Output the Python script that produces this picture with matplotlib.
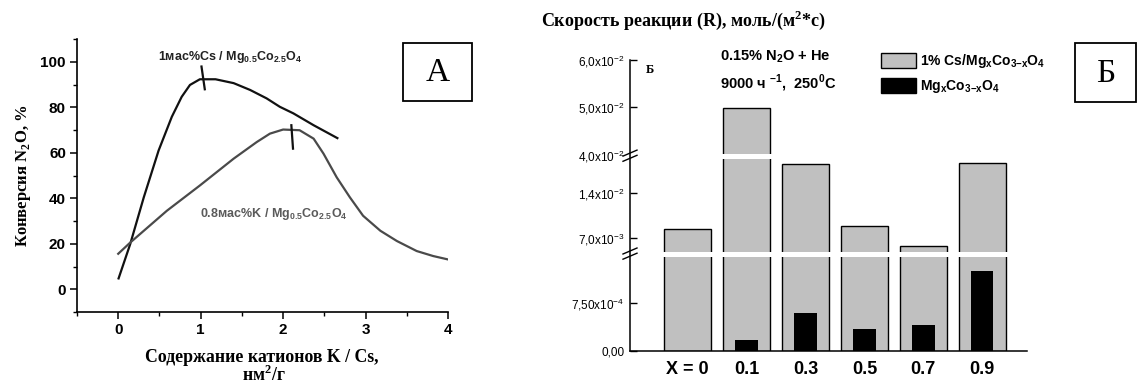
import numpy as np
import matplotlib
matplotlib.use("Agg")
import matplotlib.pyplot as plt
from matplotlib.patches import Rectangle
from matplotlib.lines import Line2D

# ---------------- data ----------------
# Panel A: N2O conversion vs. cation loading
cs_x = [0, 0.145, 0.31, 0.49, 0.65, 0.77, 0.87, 0.99, 1.18, 1.40, 1.60, 1.80, 1.96, 2.125, 2.37, 2.67]
cs_y = [4.3, 19.8, 40.4, 61.0, 75.8, 84.6, 89.8, 92.3, 92.3, 90.6, 87.6, 83.9, 80.2, 77.3, 72.1, 66.2]
k_x = [0, 0.145, 0.59, 0.99, 1.40, 1.68, 1.84, 2.0, 2.2, 2.37, 2.49, 2.65, 2.81, 2.97, 3.18, 3.38, 3.62, 3.82, 4.0]
k_y = [15.6, 20.5, 34.5, 45.6, 57.4, 64.7, 68.4, 70.2, 69.9, 66.2, 59.6, 49.2, 40.4, 32.3, 25.7, 21.2, 16.8, 14.6, 13.1]
cs_peak_x = [1.01, 1.05]
cs_peak_y = [97.9, 87.9]
k_peak_x = [2.10, 2.12]
k_peak_y = [72.1, 61.8]

# Panel B: reaction rate vs. Mg content x
x_labels = ["X = 0", "0.1", "0.3", "0.5", "0.7", "0.9"]
cs_rate = [8.4e-3, 4.98e-2, 1.856e-2, 8.96e-3, 5.85e-3, 1.867e-2]
bare_rate = [0.0, 1.78e-4, 5.93e-4, 3.41e-4, 4.14e-4, 1.253e-3]
ytick_vals = [0.0, 7.5e-4, 7.0e-3, 1.4e-2, 4.0e-2, 5.0e-2, 6.0e-2]
ytick_text = ["0,00", "7,50x10$^\\mathregular{-4}$", "7,0x10$^\\mathregular{-3}$",
              "1,4x10$^\\mathregular{-2}$", "4,0x10$^\\mathregular{-2}$",
              "5,0x10$^\\mathregular{-2}$", "6,0x10$^\\mathregular{-2}$"]

# ---------------- figure ----------------
W, H = 1137, 385
fig = plt.figure(figsize=(W / 100, H / 100), dpi=100)

SANS = "Liberation Sans"
SERIF = "Liberation Serif"


def fx(px):
    return px / W


def fy(py):
    return 1 - py / H


# ---------------- panel A ----------------
axA = fig.add_axes([fx(77), fy(312), (448 - 77) / W, (312 - 39) / H])
axA.plot(cs_x, cs_y, color="#111111", lw=1.6, solid_capstyle="butt")
axA.plot(k_x, k_y, color="#4a4a4a", lw=1.6)
axA.plot(cs_peak_x, cs_peak_y, color="#111111", lw=1.6)
axA.plot(k_peak_x, k_peak_y, color="#111111", lw=1.6)

axA.set_xlim(-0.5, 4)
axA.set_ylim(-10, 110)
axA.set_xticks([0, 1, 2, 3, 4])
axA.set_xticks([-0.5, 0.5, 1.5, 2.5, 3.5], minor=True)
axA.set_yticks([0, 20, 40, 60, 80, 100])
axA.set_yticks([-10, 10, 30, 50, 70, 90, 110], minor=True)
for s in ("top", "right"):
    axA.spines[s].set_visible(False)
for s in ("left", "bottom"):
    axA.spines[s].set_linewidth(1.2)
axA.tick_params(which="major", direction="out", length=5, width=1.1, pad=3)
axA.tick_params(which="minor", direction="out", length=3, width=1.0)
for lab in axA.get_xticklabels() + axA.get_yticklabels():
    lab.set_fontfamily(SANS)
    lab.set_fontweight("bold")
    lab.set_fontsize(11)

axA.set_ylabel("Конверсия N$_\\mathregular{2}$O, %", fontfamily=SERIF,
               fontweight="bold", fontsize=12, labelpad=5)
fig.text(fx(262), fy(357), "Содержание катионов K / Cs,", fontfamily=SERIF,
         fontweight="bold", fontsize=12.8, ha="center", va="center")
fig.text(fx(264), fy(375), "нм$^\\mathregular{2}$/г", fontfamily=SERIF,
         fontweight="bold", fontsize=12.8, ha="center", va="center")

axA.text(0.485, 102, "1мас%Cs / Mg$_\\mathregular{0.5}$Co$_\\mathregular{2.5}$O$_\\mathregular{4}$",
         fontfamily=SANS, fontweight="bold", fontsize=9, color="#222222",
         ha="left", va="center")
axA.text(0.99, 33, "0.8мас%K / Mg$_\\mathregular{0.5}$Co$_\\mathregular{2.5}$O$_\\mathregular{4}$",
         fontfamily=SANS, fontweight="bold", fontsize=9, color="#5a5a5a",
         ha="left", va="center")

# framed panel letters
for (x0, y0, x1, y1, letter) in [(403, 43, 472, 101, "A"), (1075, 43, 1135.5, 102, "Б")]:
    fig.add_artist(Rectangle((fx(x0), fy(y1)), (x1 - x0) / W, (y1 - y0) / H,
                             transform=fig.transFigure, fill=False,
                             edgecolor="black", lw=1.3))
    fig.text(fx((x0 + x1) / 2), fy((y0 + y1) / 2 + 1), letter, fontfamily=SERIF,
             fontsize=24, ha="center", va="center")

# ---------------- panel B (broken axis) ----------------
# piecewise-linear axis: three linear segments separated by breaks
V_KNOTS = [-0.01, 0.0, 1.5e-3, 4.3e-3, 2.0e-2, 4.0e-2, 6.0e-2, 0.1]
U_KNOTS = [-636.0, 0.0, 95.4, 95.5, 196.3, 196.4, 291.3, 481.3]


def fwd(v):
    return np.interp(v, V_KNOTS, U_KNOTS)


def inv(u):
    return np.interp(u, U_KNOTS, V_KNOTS)


axB = fig.add_axes([fx(630), fy(351), (1027 - 630) / W, (351 - 60) / H])
axB.set_yscale("function", functions=(fwd, inv))
pos = np.arange(len(x_labels))
axB.bar(pos, cs_rate, width=0.8, color="#c0c0c0", edgecolor="black", linewidth=1.0,
        zorder=2, label="1% Cs/Mg$_\\mathregular{x}$Co$_\\mathregular{3{-}x}$O$_\\mathregular{4}$")
axB.bar(pos, bare_rate, width=0.38, color="black", linewidth=0, zorder=3,
        label="Mg$_\\mathregular{x}$Co$_\\mathregular{3{-}x}$O$_\\mathregular{4}$")
axB.set_xlim(-0.98, 5.76)
axB.set_ylim(0, 6.0e-2)

# white gaps through the bars at the axis breaks
U_TOP = 291.3
for u0, u1 in [(94.3, 99.3), (191.7, 197.0)]:
    axB.axhspan(inv(u0), inv(u1), xmin=0.004, xmax=1, color="white", lw=0, zorder=4)

# break marks on the left spine
for uc in (97.5, 195.5):
    for off in (-2.6, 2.6):
        yc = (uc + off) / U_TOP
        axB.add_line(Line2D([-7 / 397, 7 / 397], [yc - 3 / U_TOP, yc + 3 / U_TOP],
                            transform=axB.transAxes, color="black", lw=1.0,
                            clip_on=False, zorder=6))

for s in ("top", "right"):
    axB.spines[s].set_visible(False)
axB.spines["left"].set_linewidth(1.1)
axB.spines["bottom"].set_linewidth(1.1)
axB.set_yticks(ytick_vals, ytick_text)
axB.yaxis.set_minor_locator(matplotlib.ticker.NullLocator())
axB.tick_params(axis="y", direction="in", length=5, width=1.0, pad=4)
for lab in axB.get_yticklabels():
    lab.set_fontfamily(SANS)
    lab.set_fontsize(8.5)
for i, t in enumerate(axB.yaxis.get_major_ticks()):
    if ytick_vals[i] == 4.0e-2:
        t.tick1line.set_visible(False)
axB.set_xticks(pos, x_labels)
axB.tick_params(axis="x", length=0, pad=7)
for lab in axB.get_xticklabels():
    lab.set_fontfamily(SANS)
    lab.set_fontweight("bold")
    lab.set_fontsize(13)

leg = axB.legend(loc="upper left", bbox_to_anchor=(fx(881), fy(52.5)),
                 bbox_transform=fig.transFigure, frameon=False, borderpad=0,
                 borderaxespad=0, handlelength=2.5, handleheight=1.3,
                 handletextpad=0.3, labelspacing=0.55,
                 prop={"family": SANS, "weight": "bold", "size": 10})
for h in leg.legend_handles:
    h.set_edgecolor("black")
    h.set_linewidth(1.0)

fig.text(fx(683), fy(20), "Скорость реакции (R), моль/(м$^\\mathregular{2}$*с)",
         fontfamily=SERIF, fontweight="bold", fontsize=13, ha="center", va="center")
fig.text(fx(720), fy(57), "0.15% N$_\\mathregular{2}$O + He", fontfamily=SANS,
         fontweight="bold", fontsize=10.5, ha="left", va="center")
fig.text(fx(720), fy(83), "9000 ч $^\\mathregular{-1}$,  250$^\\mathregular{0}$C",
         fontfamily=SANS, fontweight="bold", fontsize=10.5, ha="left", va="center")
fig.text(fx(650), fy(70), "Б", fontfamily=SERIF, fontweight="bold", fontsize=9,
         ha="center", va="center")

fig.savefig("out.png", dpi=100)
